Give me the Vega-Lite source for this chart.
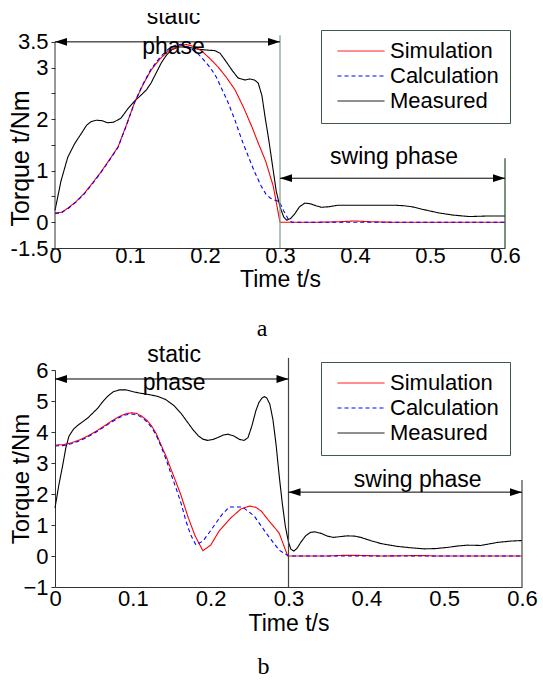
{
  "$schema": "https://vega.github.io/schema/vega-lite/v6.json",
  "padding": {"left": 8, "top": 13, "right": 5, "bottom": 0},
  "spacing": 3,
  "resolve": {"scale": {"color": "independent", "strokeDash": "independent"}, "legend": {"color": "independent", "strokeDash": "independent"}},
  "config": {
    "view": {"stroke": null},
    "font": "Liberation Sans",
    "axis": {"grid": false, "labelFont": "Liberation Sans", "titleFont": "Liberation Sans", "labelColor": "#000", "titleColor": "#000", "titleFontWeight": "normal", "domainColor": "#333", "tickColor": "#333", "labelFontSize": 22, "titleFontSize": 23, "labelOverlap": false, "labelFlush": false, "tickCount": 20},
    "legend": {"title": null, "symbolType": "stroke", "symbolSize": 2209, "symbolStrokeWidth": 1, "labelFont": "Liberation Sans", "labelFontSize": 22, "labelColor": "#000", "labelOffset": 5, "symbolOffset": 5, "padding": 11, "strokeColor": "#3d5c48", "fillColor": "white", "clipHeight": 20, "rowPadding": 3, "labelLimit": 300}
  },
  "datasets": {
    "a": [
      {"s":"Measured","t":0,"v":0.23},{"s":"Measured","t":0.008,"v":0.8},{"s":"Measured","t":0.017,"v":1.26},{"s":"Measured","t":0.026,"v":1.52},{"s":"Measured","t":0.035,"v":1.72},{"s":"Measured","t":0.042,"v":1.88},{"s":"Measured","t":0.048,"v":1.95},{"s":"Measured","t":0.055,"v":1.98},{"s":"Measured","t":0.063,"v":1.97},{"s":"Measured","t":0.07,"v":1.93},{"s":"Measured","t":0.078,"v":1.94},{"s":"Measured","t":0.088,"v":2.02},{"s":"Measured","t":0.097,"v":2.2},{"s":"Measured","t":0.106,"v":2.35},{"s":"Measured","t":0.115,"v":2.47},{"s":"Measured","t":0.122,"v":2.57},{"s":"Measured","t":0.128,"v":2.7},{"s":"Measured","t":0.135,"v":2.9},{"s":"Measured","t":0.142,"v":3.1},{"s":"Measured","t":0.149,"v":3.25},{"s":"Measured","t":0.156,"v":3.35},{"s":"Measured","t":0.165,"v":3.4},{"s":"Measured","t":0.177,"v":3.4},{"s":"Measured","t":0.19,"v":3.36},{"s":"Measured","t":0.203,"v":3.34},{"s":"Measured","t":0.213,"v":3.33},{"s":"Measured","t":0.22,"v":3.28},{"s":"Measured","t":0.228,"v":3.12},{"s":"Measured","t":0.236,"v":2.95},{"s":"Measured","t":0.244,"v":2.8},{"s":"Measured","t":0.253,"v":2.76},{"s":"Measured","t":0.26,"v":2.78},{"s":"Measured","t":0.266,"v":2.76},{"s":"Measured","t":0.271,"v":2.7},{"s":"Measured","t":0.276,"v":2.45},{"s":"Measured","t":0.28,"v":2.05},{"s":"Measured","t":0.285,"v":1.6},{"s":"Measured","t":0.29,"v":1.1},{"s":"Measured","t":0.295,"v":0.6},{"s":"Measured","t":0.3,"v":0.3},{"s":"Measured","t":0.305,"v":0.1},{"s":"Measured","t":0.309,"v":0.04},{"s":"Measured","t":0.314,"v":0.07},{"s":"Measured","t":0.32,"v":0.17},{"s":"Measured","t":0.326,"v":0.3},{"s":"Measured","t":0.333,"v":0.37},{"s":"Measured","t":0.34,"v":0.36},{"s":"Measured","t":0.348,"v":0.32},{"s":"Measured","t":0.355,"v":0.29},{"s":"Measured","t":0.365,"v":0.3},{"s":"Measured","t":0.377,"v":0.33},{"s":"Measured","t":0.42,"v":0.33},{"s":"Measured","t":0.453,"v":0.33},{"s":"Measured","t":0.465,"v":0.32},{"s":"Measured","t":0.476,"v":0.3},{"s":"Measured","t":0.49,"v":0.25},{"s":"Measured","t":0.512,"v":0.18},{"s":"Measured","t":0.53,"v":0.14},{"s":"Measured","t":0.552,"v":0.11},{"s":"Measured","t":0.575,"v":0.12},{"s":"Measured","t":0.6,"v":0.12},
      {"s":"Simulation","t":0,"v":0.18},{"s":"Simulation","t":0.008,"v":0.19},{"s":"Simulation","t":0.017,"v":0.27},{"s":"Simulation","t":0.028,"v":0.4},{"s":"Simulation","t":0.039,"v":0.56},{"s":"Simulation","t":0.05,"v":0.76},{"s":"Simulation","t":0.061,"v":0.97},{"s":"Simulation","t":0.072,"v":1.2},{"s":"Simulation","t":0.084,"v":1.46},{"s":"Simulation","t":0.095,"v":1.88},{"s":"Simulation","t":0.106,"v":2.32},{"s":"Simulation","t":0.117,"v":2.66},{"s":"Simulation","t":0.128,"v":2.95},{"s":"Simulation","t":0.14,"v":3.17},{"s":"Simulation","t":0.151,"v":3.32},{"s":"Simulation","t":0.163,"v":3.41},{"s":"Simulation","t":0.175,"v":3.45},{"s":"Simulation","t":0.185,"v":3.41},{"s":"Simulation","t":0.195,"v":3.33},{"s":"Simulation","t":0.207,"v":3.17},{"s":"Simulation","t":0.217,"v":3.02},{"s":"Simulation","t":0.228,"v":2.82},{"s":"Simulation","t":0.24,"v":2.57},{"s":"Simulation","t":0.251,"v":2.24},{"s":"Simulation","t":0.262,"v":1.87},{"s":"Simulation","t":0.272,"v":1.5},{"s":"Simulation","t":0.281,"v":1.18},{"s":"Simulation","t":0.291,"v":0.7},{"s":"Simulation","t":0.3,"v":0},{"s":"Simulation","t":0.35,"v":0},{"s":"Simulation","t":0.38,"v":0.01},{"s":"Simulation","t":0.4,"v":0.025},{"s":"Simulation","t":0.42,"v":0.01},{"s":"Simulation","t":0.45,"v":0},{"s":"Simulation","t":0.6,"v":0},
      {"s":"Calculation","t":0,"v":0.17},{"s":"Calculation","t":0.008,"v":0.18},{"s":"Calculation","t":0.017,"v":0.26},{"s":"Calculation","t":0.028,"v":0.39},{"s":"Calculation","t":0.039,"v":0.55},{"s":"Calculation","t":0.05,"v":0.75},{"s":"Calculation","t":0.061,"v":0.96},{"s":"Calculation","t":0.072,"v":1.19},{"s":"Calculation","t":0.084,"v":1.45},{"s":"Calculation","t":0.095,"v":1.87},{"s":"Calculation","t":0.106,"v":2.32},{"s":"Calculation","t":0.117,"v":2.67},{"s":"Calculation","t":0.128,"v":2.97},{"s":"Calculation","t":0.14,"v":3.2},{"s":"Calculation","t":0.151,"v":3.36},{"s":"Calculation","t":0.16,"v":3.43},{"s":"Calculation","t":0.167,"v":3.45},{"s":"Calculation","t":0.178,"v":3.4},{"s":"Calculation","t":0.19,"v":3.28},{"s":"Calculation","t":0.2,"v":3.12},{"s":"Calculation","t":0.207,"v":3.0},{"s":"Calculation","t":0.215,"v":2.82},{"s":"Calculation","t":0.222,"v":2.6},{"s":"Calculation","t":0.23,"v":2.35},{"s":"Calculation","t":0.24,"v":1.98},{"s":"Calculation","t":0.249,"v":1.6},{"s":"Calculation","t":0.258,"v":1.27},{"s":"Calculation","t":0.266,"v":0.98},{"s":"Calculation","t":0.275,"v":0.7},{"s":"Calculation","t":0.281,"v":0.55},{"s":"Calculation","t":0.287,"v":0.47},{"s":"Calculation","t":0.293,"v":0.43},{"s":"Calculation","t":0.299,"v":0.4},{"s":"Calculation","t":0.305,"v":0.22},{"s":"Calculation","t":0.311,"v":0.06},{"s":"Calculation","t":0.316,"v":0},{"s":"Calculation","t":0.6,"v":0}
    ],
    "b": [
      {"s":"Measured","t":0,"v":1.55},{"s":"Measured","t":0.005,"v":2.3},{"s":"Measured","t":0.01,"v":2.94},{"s":"Measured","t":0.014,"v":3.5},{"s":"Measured","t":0.018,"v":3.87},{"s":"Measured","t":0.024,"v":4.1},{"s":"Measured","t":0.03,"v":4.23},{"s":"Measured","t":0.042,"v":4.45},{"s":"Measured","t":0.055,"v":4.77},{"s":"Measured","t":0.062,"v":5.0},{"s":"Measured","t":0.068,"v":5.16},{"s":"Measured","t":0.075,"v":5.3},{"s":"Measured","t":0.083,"v":5.36},{"s":"Measured","t":0.091,"v":5.36},{"s":"Measured","t":0.1,"v":5.3},{"s":"Measured","t":0.11,"v":5.25},{"s":"Measured","t":0.12,"v":5.21},{"s":"Measured","t":0.132,"v":5.15},{"s":"Measured","t":0.142,"v":5.05},{"s":"Measured","t":0.153,"v":4.85},{"s":"Measured","t":0.162,"v":4.6},{"s":"Measured","t":0.171,"v":4.29},{"s":"Measured","t":0.178,"v":4.05},{"s":"Measured","t":0.184,"v":3.88},{"s":"Measured","t":0.19,"v":3.77},{"s":"Measured","t":0.196,"v":3.73},{"s":"Measured","t":0.203,"v":3.76},{"s":"Measured","t":0.209,"v":3.82},{"s":"Measured","t":0.216,"v":3.9},{"s":"Measured","t":0.222,"v":3.93},{"s":"Measured","t":0.23,"v":3.87},{"s":"Measured","t":0.237,"v":3.76},{"s":"Measured","t":0.243,"v":3.73},{"s":"Measured","t":0.248,"v":3.82},{"s":"Measured","t":0.253,"v":4.2},{"s":"Measured","t":0.258,"v":4.68},{"s":"Measured","t":0.262,"v":4.95},{"s":"Measured","t":0.266,"v":5.1},{"s":"Measured","t":0.269,"v":5.14},{"s":"Measured","t":0.272,"v":5.1},{"s":"Measured","t":0.276,"v":4.9},{"s":"Measured","t":0.28,"v":4.4},{"s":"Measured","t":0.284,"v":3.6},{"s":"Measured","t":0.288,"v":2.6},{"s":"Measured","t":0.292,"v":1.7},{"s":"Measured","t":0.296,"v":0.95},{"s":"Measured","t":0.3,"v":0.45},{"s":"Measured","t":0.303,"v":0.22},{"s":"Measured","t":0.307,"v":0.16},{"s":"Measured","t":0.311,"v":0.25},{"s":"Measured","t":0.316,"v":0.45},{"s":"Measured","t":0.322,"v":0.65},{"s":"Measured","t":0.328,"v":0.76},{"s":"Measured","t":0.334,"v":0.78},{"s":"Measured","t":0.342,"v":0.73},{"s":"Measured","t":0.35,"v":0.64},{"s":"Measured","t":0.358,"v":0.6},{"s":"Measured","t":0.368,"v":0.63},{"s":"Measured","t":0.376,"v":0.65},{"s":"Measured","t":0.385,"v":0.64},{"s":"Measured","t":0.393,"v":0.6},{"s":"Measured","t":0.405,"v":0.5},{"s":"Measured","t":0.419,"v":0.4},{"s":"Measured","t":0.43,"v":0.35},{"s":"Measured","t":0.44,"v":0.31},{"s":"Measured","t":0.455,"v":0.27},{"s":"Measured","t":0.474,"v":0.23},{"s":"Measured","t":0.49,"v":0.24},{"s":"Measured","t":0.505,"v":0.28},{"s":"Measured","t":0.52,"v":0.33},{"s":"Measured","t":0.53,"v":0.35},{"s":"Measured","t":0.547,"v":0.34},{"s":"Measured","t":0.56,"v":0.4},{"s":"Measured","t":0.569,"v":0.44},{"s":"Measured","t":0.585,"v":0.48},{"s":"Measured","t":0.6,"v":0.5},
      {"s":"Simulation","t":0,"v":3.58},{"s":"Simulation","t":0.01,"v":3.59},{"s":"Simulation","t":0.021,"v":3.65},{"s":"Simulation","t":0.032,"v":3.75},{"s":"Simulation","t":0.042,"v":3.87},{"s":"Simulation","t":0.053,"v":4.03},{"s":"Simulation","t":0.063,"v":4.19},{"s":"Simulation","t":0.072,"v":4.34},{"s":"Simulation","t":0.081,"v":4.48},{"s":"Simulation","t":0.09,"v":4.58},{"s":"Simulation","t":0.098,"v":4.62},{"s":"Simulation","t":0.105,"v":4.6},{"s":"Simulation","t":0.112,"v":4.5},{"s":"Simulation","t":0.118,"v":4.38},{"s":"Simulation","t":0.124,"v":4.2},{"s":"Simulation","t":0.13,"v":3.95},{"s":"Simulation","t":0.136,"v":3.6},{"s":"Simulation","t":0.143,"v":3.2},{"s":"Simulation","t":0.149,"v":2.8},{"s":"Simulation","t":0.156,"v":2.35},{"s":"Simulation","t":0.162,"v":1.95},{"s":"Simulation","t":0.171,"v":1.25},{"s":"Simulation","t":0.18,"v":0.65},{"s":"Simulation","t":0.19,"v":0.17},{"s":"Simulation","t":0.2,"v":0.35},{"s":"Simulation","t":0.211,"v":0.81},{"s":"Simulation","t":0.226,"v":1.23},{"s":"Simulation","t":0.239,"v":1.52},{"s":"Simulation","t":0.25,"v":1.61},{"s":"Simulation","t":0.258,"v":1.57},{"s":"Simulation","t":0.265,"v":1.45},{"s":"Simulation","t":0.275,"v":1.13},{"s":"Simulation","t":0.288,"v":0.74},{"s":"Simulation","t":0.299,"v":0},{"s":"Simulation","t":0.35,"v":0},{"s":"Simulation","t":0.37,"v":0.02},{"s":"Simulation","t":0.39,"v":0.02},{"s":"Simulation","t":0.42,"v":0},{"s":"Simulation","t":0.47,"v":0.015},{"s":"Simulation","t":0.49,"v":0},{"s":"Simulation","t":0.6,"v":0},
      {"s":"Calculation","t":0,"v":3.55},{"s":"Calculation","t":0.01,"v":3.56},{"s":"Calculation","t":0.021,"v":3.62},{"s":"Calculation","t":0.032,"v":3.72},{"s":"Calculation","t":0.042,"v":3.84},{"s":"Calculation","t":0.053,"v":4.0},{"s":"Calculation","t":0.063,"v":4.16},{"s":"Calculation","t":0.072,"v":4.31},{"s":"Calculation","t":0.081,"v":4.45},{"s":"Calculation","t":0.09,"v":4.55},{"s":"Calculation","t":0.098,"v":4.58},{"s":"Calculation","t":0.105,"v":4.56},{"s":"Calculation","t":0.112,"v":4.46},{"s":"Calculation","t":0.118,"v":4.33},{"s":"Calculation","t":0.124,"v":4.15},{"s":"Calculation","t":0.13,"v":3.9},{"s":"Calculation","t":0.136,"v":3.55},{"s":"Calculation","t":0.143,"v":3.1},{"s":"Calculation","t":0.149,"v":2.65},{"s":"Calculation","t":0.156,"v":2.15},{"s":"Calculation","t":0.162,"v":1.7},{"s":"Calculation","t":0.168,"v":1.15},{"s":"Calculation","t":0.174,"v":0.7},{"s":"Calculation","t":0.181,"v":0.36},{"s":"Calculation","t":0.19,"v":0.48},{"s":"Calculation","t":0.198,"v":0.75},{"s":"Calculation","t":0.205,"v":1.0},{"s":"Calculation","t":0.215,"v":1.35},{"s":"Calculation","t":0.224,"v":1.58},{"s":"Calculation","t":0.241,"v":1.58},{"s":"Calculation","t":0.256,"v":1.29},{"s":"Calculation","t":0.273,"v":0.68},{"s":"Calculation","t":0.288,"v":0.19},{"s":"Calculation","t":0.3,"v":0},{"s":"Calculation","t":0.6,"v":0}
    ]
  },
  "vconcat": [
    {
      "width": 450,
      "height": 235,
      "title": {"text": "a", "orient": "bottom", "anchor": "middle", "font": "Liberation Serif", "fontSize": 24, "fontWeight": "normal", "color": "#000", "dx": -18, "offset": 26},
      "layer": [
        {
          "data": {"name": "a"},
          "mark": {"type": "line", "strokeWidth": 1.1},
          "encoding": {
            "x": {"field": "t", "type": "quantitative", "title": "Time t/s", "scale": {"domain": [0, 0.6], "nice": false}, "axis": {"values": [0, 0.1, 0.2, 0.3, 0.4, 0.5, 0.6], "tickCount": 20, "format": "~g", "ticks": false, "labelPadding": -3, "labelDx": 5, "labelFlush": false, "labelOverlap": false, "titlePadding": 2}},
            "y": {"field": "v", "type": "quantitative", "title": "Torque t/Nm", "scale": {"domain": [-0.5, 4.06], "nice": false, "zero": false}, "axis": {"values": [-0.5, 0, 0.5, 1, 1.5, 2, 2.5, 3, 3.5], "tickCount": 20, "format": "~g", "labelExpr": "datum.value == -0.5 ? '-1.5' : (datum.value == 0.5 || datum.value == 1.5 || datum.value == 2.5) ? '' : datum.label", "domain": false, "tickSize": 4, "labelPadding": 3, "labelFlush": false, "labelOverlap": false, "minExtent": 22, "maxExtent": 22, "titlePadding": 0, "titleFontSize": 25, "titleY": 145}},
            "color": {"field": "s", "type": "nominal", "scale": {"domain": ["Simulation", "Calculation", "Measured"], "range": ["#ff0000", "#0000ff", "#000000"]}, "legend": {"orient": "none", "legendX": 266, "legendY": 17}},
            "strokeDash": {"field": "s", "type": "nominal", "scale": {"domain": ["Simulation", "Calculation", "Measured"], "range": [[1, 0], [4, 3], [1, 0]]}}
          }
        },
        {"data": {"values": [{}]}, "mark": {"type": "rule", "color": "#333", "strokeWidth": 1}, "encoding": {"x": {"datum": 0}, "y": {"datum": -0.5}, "y2": {"datum": 3.5}}},
        {"data": {"values": [{}]}, "mark": {"type": "rule", "color": "#7f9c8c", "strokeWidth": 1.2}, "encoding": {"x": {"datum": 0.3}, "y": {"datum": 3.63}, "y2": {"datum": -0.5}}},
        {"data": {"values": [{}]}, "mark": {"type": "rule", "color": "#1e4a2c", "strokeWidth": 1.2}, "encoding": {"x": {"datum": 0.6}, "y": {"datum": 1.24}, "y2": {"datum": -0.5}}},
        {"data": {"values": [{}]}, "mark": {"type": "rule", "color": "#000", "strokeWidth": 1}, "encoding": {"x": {"datum": 0}, "x2": {"datum": 0.3}, "y": {"datum": 3.5}}},
        {"data": {"values": [{}]}, "mark": {"type": "rule", "color": "#000", "strokeWidth": 1}, "encoding": {"x": {"datum": 0.3}, "x2": {"datum": 0.6}, "y": {"datum": 0.854}}},
        {"data": {"values": [{}]}, "mark": {"type": "point", "shape": "M0,0L2,-0.65L2,0.65Z", "size": 144, "filled": true, "color": "#000", "opacity": 1}, "encoding": {"x": {"datum": 0}, "y": {"datum": 3.5}}},
        {"data": {"values": [{}]}, "mark": {"type": "point", "shape": "M0,0L-2,-0.65L-2,0.65Z", "size": 144, "filled": true, "color": "#000", "opacity": 1}, "encoding": {"x": {"datum": 0.3}, "y": {"datum": 3.5}}},
        {"data": {"values": [{}]}, "mark": {"type": "point", "shape": "M0,0L2,-0.65L2,0.65Z", "size": 144, "filled": true, "color": "#000", "opacity": 1}, "encoding": {"x": {"datum": 0.3}, "y": {"datum": 0.854}}},
        {"data": {"values": [{}]}, "mark": {"type": "point", "shape": "M0,0L-2,-0.65L-2,0.65Z", "size": 144, "filled": true, "color": "#000", "opacity": 1}, "encoding": {"x": {"datum": 0.6}, "y": {"datum": 0.854}}},
        {"data": {"values": [{}]}, "mark": {"type": "text", "text": "static", "font": "Liberation Sans", "fontSize": 23, "color": "#000", "clip": true}, "encoding": {"x": {"datum": 0.158}, "y": {"datum": 3.98}}},
        {"data": {"values": [{}]}, "mark": {"type": "text", "text": "phase", "font": "Liberation Sans", "fontSize": 23, "color": "#000"}, "encoding": {"x": {"datum": 0.158}, "y": {"datum": 3.4}}},
        {"data": {"values": [{}]}, "mark": {"type": "text", "text": "swing phase", "font": "Liberation Sans", "fontSize": 23, "color": "#000"}, "encoding": {"x": {"datum": 0.452}, "y": {"datum": 1.26}}}
      ]
    },
    {
      "width": 467,
      "height": 217,
      "title": {"text": "b", "orient": "bottom", "anchor": "middle", "font": "Liberation Serif", "fontSize": 24, "fontWeight": "normal", "color": "#000", "dx": -25, "offset": 20},
      "layer": [
        {
          "data": {"name": "b"},
          "mark": {"type": "line", "strokeWidth": 1.1},
          "encoding": {
            "x": {"field": "t", "type": "quantitative", "title": "Time t/s", "scale": {"domain": [0, 0.6], "nice": false}, "axis": {"values": [0, 0.1, 0.2, 0.3, 0.4, 0.5, 0.6], "tickCount": 20, "format": "~g", "ticks": false, "labelPadding": 1, "labelDx": 5, "labelFlush": false, "labelOverlap": false, "titlePadding": 3}},
            "y": {"field": "v", "type": "quantitative", "title": "Torque t/Nm", "scale": {"domain": [-1, 6], "nice": false, "zero": false}, "axis": {"values": [-1, 0, 1, 2, 3, 4, 5, 6], "tickCount": 20, "format": "~g", "tickSize": 4, "labelPadding": 3, "labelFlush": false, "labelOverlap": false, "minExtent": 22, "maxExtent": 22, "titlePadding": 0, "titleFontSize": 24}},
            "color": {"field": "s", "type": "nominal", "scale": {"domain": ["Simulation", "Calculation", "Measured"], "range": ["#ff0000", "#0000ff", "#000000"]}, "legend": {"orient": "none", "legendX": 266, "legendY": -8}},
            "strokeDash": {"field": "s", "type": "nominal", "scale": {"domain": ["Simulation", "Calculation", "Measured"], "range": [[1, 0], [4, 3], [1, 0]]}}
          }
        },
        {"data": {"values": [{}]}, "mark": {"type": "rule", "color": "#444", "strokeWidth": 1.2}, "encoding": {"x": {"datum": 0.3}, "y": {"datum": 6.39}, "y2": {"datum": -1}}},
        {"data": {"values": [{}]}, "mark": {"type": "rule", "color": "#444", "strokeWidth": 1.2}, "encoding": {"x": {"datum": 0.6}, "y": {"datum": 2.45}, "y2": {"datum": -1}}},
        {"data": {"values": [{}]}, "mark": {"type": "rule", "color": "#000", "strokeWidth": 1}, "encoding": {"x": {"datum": 0}, "x2": {"datum": 0.3}, "y": {"datum": 5.71}}},
        {"data": {"values": [{}]}, "mark": {"type": "rule", "color": "#000", "strokeWidth": 1}, "encoding": {"x": {"datum": 0.3}, "x2": {"datum": 0.6}, "y": {"datum": 2.06}}},
        {"data": {"values": [{}]}, "mark": {"type": "point", "shape": "M0,0L2,-0.65L2,0.65Z", "size": 144, "filled": true, "color": "#000", "opacity": 1}, "encoding": {"x": {"datum": 0}, "y": {"datum": 5.71}}},
        {"data": {"values": [{}]}, "mark": {"type": "point", "shape": "M0,0L-2,-0.65L-2,0.65Z", "size": 144, "filled": true, "color": "#000", "opacity": 1}, "encoding": {"x": {"datum": 0.3}, "y": {"datum": 5.71}}},
        {"data": {"values": [{}]}, "mark": {"type": "point", "shape": "M0,0L2,-0.65L2,0.65Z", "size": 144, "filled": true, "color": "#000", "opacity": 1}, "encoding": {"x": {"datum": 0.3}, "y": {"datum": 2.06}}},
        {"data": {"values": [{}]}, "mark": {"type": "point", "shape": "M0,0L-2,-0.65L-2,0.65Z", "size": 144, "filled": true, "color": "#000", "opacity": 1}, "encoding": {"x": {"datum": 0.6}, "y": {"datum": 2.06}}},
        {"data": {"values": [{}]}, "mark": {"type": "text", "text": "static", "font": "Liberation Sans", "fontSize": 23, "color": "#000"}, "encoding": {"x": {"datum": 0.153}, "y": {"datum": 6.48}}},
        {"data": {"values": [{}]}, "mark": {"type": "text", "text": "phase", "font": "Liberation Sans", "fontSize": 23, "color": "#000"}, "encoding": {"x": {"datum": 0.153}, "y": {"datum": 5.58}}},
        {"data": {"values": [{}]}, "mark": {"type": "text", "text": "swing phase", "font": "Liberation Sans", "fontSize": 23, "color": "#000"}, "encoding": {"x": {"datum": 0.466}, "y": {"datum": 2.45}}}
      ]
    }
  ]
}
